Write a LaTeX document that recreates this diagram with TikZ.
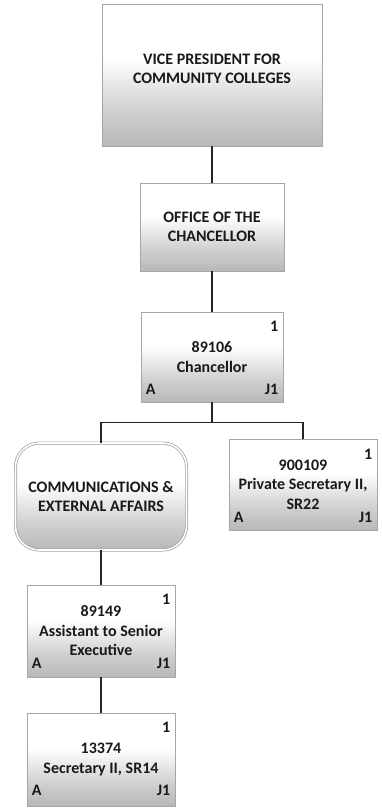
\documentclass[tikz,border=0pt]{standalone}
\usepackage{fontspec}
\setmainfont{Carlito}
\pgfdeclareverticalshading{boxshade}{100bp}{color(0bp)=(black!28); color(25bp)=(black!28); color(38bp)=(black!18); color(50bp)=(black!6); color(56bp)=(white); color(100bp)=(white)}
\tikzset{
  orgbox/.style={draw=gray!70, line width=0.9pt, shading=boxshade, rectangle, inner sep=0pt,
    font=\fontsize{16}{19.5}\selectfont\bfseries, align=center, text=black!90},
  unitbox/.style={orgbox, rounded corners=24pt, double=white, double distance=1.6pt, draw=gray!75, line width=0.7pt},
  conn/.style={line width=1.3pt, draw=black!85},
  cornertxt/.style={font=\fontsize{16}{19.5}\selectfont\bfseries, inner sep=0pt, text=black!90},
}
\newcommand\posmarks[3]{%
  \node[cornertxt, anchor=base east] (#1one) at ([xshift=-5pt,yshift=-#2]#1.north east) {1};
  \node[cornertxt, anchor=base west] (#1A) at ([xshift=5pt,yshift=#3]#1.south west) {A};
  \node[cornertxt, anchor=base east] (#1J) at ([xshift=-5pt,yshift=#3]#1.south east) {J1};
}
\begin{document}
\begin{tikzpicture}[x=1pt,y=-1pt]
\useasboundingbox[fill=white] (0,0) rectangle (382,812);

% top level
\node[orgbox, minimum width=220pt, minimum height=142pt] (vp) at (212,75) {};
\node[font=\fontsize{16}{19.5}\selectfont\bfseries, align=center, text=black!90, inner sep=0pt] (vpt) at (212,69) {VICE PRESIDENT FOR\\COMMUNITY COLLEGES};

\node[orgbox, minimum width=144pt, minimum height=88pt] (office) at (212,227) {OFFICE OF THE\\CHANCELLOR};

\node[orgbox, minimum width=142pt, minimum height=90pt] (chan) at (212,357) {89106\\Chancellor};
\posmarks{chan}{20pt}{8pt}

\node[unitbox, minimum width=171pt, minimum height=107pt] (comm) at (101,496.5) {COMMUNICATIONS \&\\EXTERNAL AFFAIRS};

\node[orgbox, minimum width=148pt, minimum height=91pt] (priv) at (303,484.5) {900109\\Private Secretary II,\\SR22};
\posmarks{priv}{21pt}{8pt}

\node[orgbox, minimum width=148pt, minimum height=92pt] (asst) at (101,631) {89149\\Assistant to Senior\\Executive};
\posmarks{asst}{20pt}{9pt}

\node[orgbox, minimum width=148pt, minimum height=93pt] (sec) at (101,759.5) {13374\\Secretary II, SR14};
\posmarks{sec}{20pt}{11pt}

% connectors
\draw[conn] (vp.south) -- (office.north);
\draw[conn] (office.south) -- (chan.north);
\path (chan.south) ++(0,20) coordinate (bus);
\draw[conn] (chan.south) -- (bus);
\draw[conn] (comm.north) |- (bus) -| (priv.north);
\draw[conn] (comm.south) -- (asst.north);
\draw[conn] (asst.south) -- (sec.north);
\end{tikzpicture}
\end{document}
